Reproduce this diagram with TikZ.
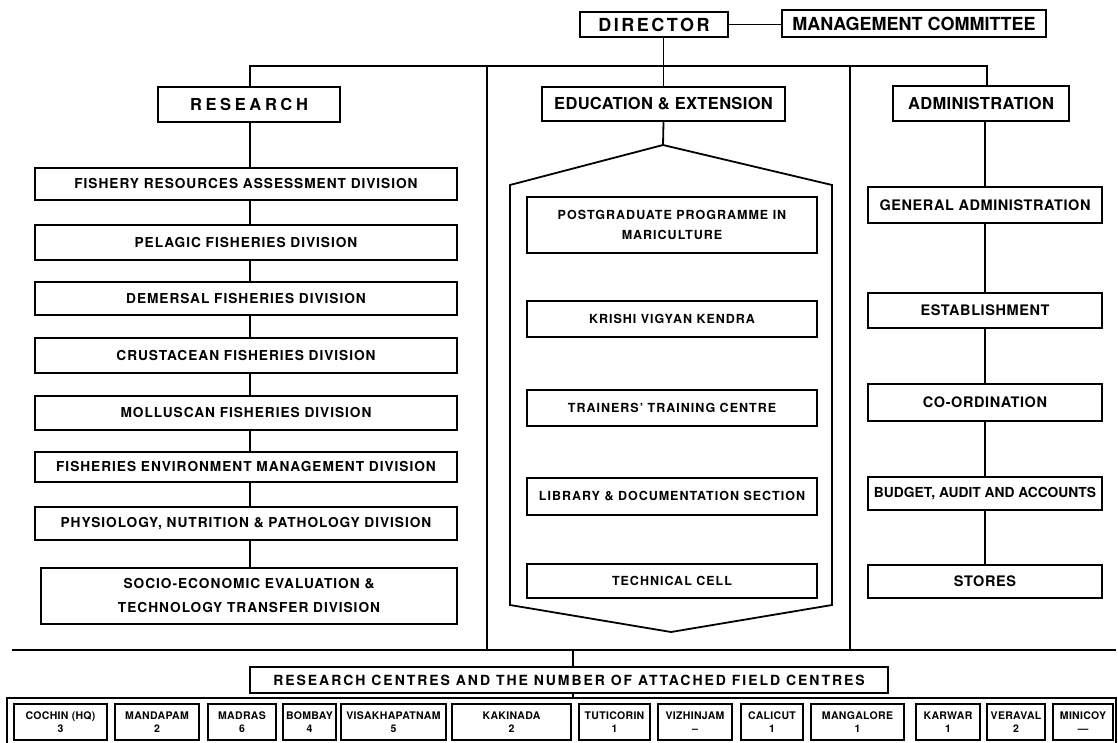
\documentclass[tikz,border=0pt]{standalone}
\usepackage{fontspec}
\setmainfont{TeX Gyre Heros}
\newfontfamily\hvR{TeX Gyre Heros}[LetterSpace=7, UprightFont=*-Bold]
\newfontfamily\hvM{TeX Gyre Heros}[LetterSpace=8, UprightFont=*-Bold]
\newfontfamily\hvA{TeX Gyre Heros}[LetterSpace=4, UprightFont=*-Bold]
\newfontfamily\hvW{TeX Gyre Heros}[LetterSpace=22, UprightFont=*-Bold]
\newfontfamily\hvD{TeX Gyre Heros}[LetterSpace=14, UprightFont=*-Bold]
\newfontfamily\hvT{TeX Gyre Heros}[LetterSpace=2, UprightFont=*-Bold]
\newfontfamily\hvZ{TeX Gyre Heros}[LetterSpace=0, UprightFont=*-Bold]
\newfontfamily\hvC{TeX Gyre Heros}[LetterSpace=3, UprightFont=*-Bold]
\tikzset{
  box/.style={draw, line width=1.3pt, inner sep=0pt, align=center},
  conn/.style={line width=1.8pt},
  sepline/.style={line width=2.6pt},
  rbox/.style={box, minimum width=422pt, font=\hvR\fontsize{13.7}{16}\selectfont},
  mbox/.style={box, minimum width=290pt, font=\hvM\fontsize{12.5}{20}\selectfont},
  abox/.style={box, minimum width=234pt, font=\hvA\fontsize{14.5}{16}\selectfont},
  hbox/.style={box, font=\hvT\fontsize{16.5}{18}\selectfont},
  cbox/.style={box, minimum height=36pt, font=\hvC\fontsize{10.5}{13}\selectfont},
}
\begin{document}
\begin{tikzpicture}[x=1pt,y=-1pt]
\useasboundingbox (0,0) rectangle (1118,743);
% top
\node[box, minimum width=148pt, minimum height=25pt, font=\hvD\fontsize{18}{20}\selectfont] (dir) at (654,24.5) {DIRECTOR};
\node[box, minimum width=264pt, minimum height=27pt, font=\hvZ\fontsize{18}{20}\selectfont] (mc) at (914,23.5) {MANAGEMENT COMMITTEE};
\draw[conn] (dir.east) -- (mc.west |- dir.east);
% headers
\node[hbox, minimum width=182pt, minimum height=35pt, font=\hvW\fontsize{16.5}{18}\selectfont] (res) at (249,104.5) {RESEARCH};
\node[hbox, minimum width=243pt, minimum height=34pt] (edu) at (663.5,104) {EDUCATION \& EXTENSION};
\node[hbox, minimum width=176pt, minimum height=35pt] (adm) at (981,103.5) {ADMINISTRATION};
\coordinate (busL) at (250,66);
\coordinate (busR) at (987,66);
\coordinate (sepLt) at (487,66);
\coordinate (sepRt) at (850,66);
\coordinate (bbL) at (12,650);
\coordinate (bbR) at (1116,650);
\draw[conn] (dir.south -| edu.north) -- (edu.north);
\draw[sepline] (res.north -| busL) -- (busL) -- (busR) -- (busR |- adm.north);
\draw[sepline] (sepLt) -- (sepLt |- bbL);
\draw[sepline] (sepRt) -- (sepRt |- bbL);
\draw[sepline] (bbL) -- (bbR);
% research column
\node[rbox, minimum height=32pt] (fra) at (246,184) {FISHERY RESOURCES ASSESSMENT DIVISION};
\node[rbox, minimum height=35pt] (pel) at (246,242.5) {PELAGIC FISHERIES DIVISION};
\node[rbox, minimum height=33pt] (dem) at (246,298.5) {DEMERSAL FISHERIES DIVISION};
\node[rbox, minimum height=35pt] (cru) at (246,355.5) {CRUSTACEAN FISHERIES DIVISION};
\node[rbox, minimum height=34pt] (mol) at (246,413) {MOLLUSCAN FISHERIES DIVISION};
\node[rbox, minimum height=30pt] (fem) at (246,467) {FISHERIES ENVIRONMENT MANAGEMENT DIVISION};
\node[rbox, minimum height=33pt] (pnp) at (246,523.5) {PHYSIOLOGY, NUTRITION \& PATHOLOGY DIVISION};
\node[rbox, minimum width=416pt, minimum height=56pt, font=\hvR\fontsize{13.7}{24}\selectfont] (soc) at (249,596) {SOCIO-ECONOMIC EVALUATION \&\\TECHNOLOGY TRANSFER DIVISION};
\foreach \a/\b in {res/fra,fra/pel,pel/dem,dem/cru,cru/mol,mol/fem,fem/pnp,pnp/soc}
  \draw[conn] (\a.south -| busL) -- (\b.north -| busL);
% education column
\coordinate (pA) at (663,145);
\coordinate (pL) at (510,185);
\coordinate (pLb) at (510,605);
\coordinate (pB) at (671,632);
\coordinate (pRb) at (832,605);
\coordinate (pR) at (832,185);
\draw[conn] (edu.south) -- (pA);
\draw[line width=1.8pt, line join=miter] (pA) -- (pL) -- (pLb) -- (pB) -- (pRb) -- (pR) -- cycle;
\node[mbox, minimum height=56pt] (pg) at (672,225) {POSTGRADUATE PROGRAMME IN\\MARICULTURE};
\node[mbox, minimum height=36pt] (kvk) at (672,319) {KRISHI VIGYAN KENDRA};
\node[mbox, minimum height=36pt] (ttc) at (672,408) {TRAINERS’ TRAINING CENTRE};
\node[mbox, minimum height=37pt] (lib) at (672,496.5) {LIBRARY \& DOCUMENTATION SECTION};
\node[mbox, minimum height=34pt] (tech) at (672,581) {TECHNICAL CELL};
% administration column
\node[abox, minimum height=36pt] (ga) at (985,205) {GENERAL ADMINISTRATION};
\node[abox, minimum height=35pt] (est) at (985,310.5) {ESTABLISHMENT};
\node[abox, minimum height=37pt] (co) at (985,402.5) {CO-ORDINATION};
\node[abox, minimum height=33pt, font=\hvZ\fontsize{13.8}{16}\selectfont] (bud) at (985,493.5) {BUDGET, AUDIT AND ACCOUNTS};
\node[abox, minimum height=33pt] (sto) at (985,581.5) {STORES};
\foreach \a/\b in {adm/ga,ga/est,est/co,co/bud,bud/sto}
  \draw[conn] (\b.north |- \a.south) -- (\b.north);
% research centres
\node[box, minimum width=638pt, minimum height=26pt, font=\hvD\fontsize{14}{16}\selectfont] (rc) at (569,680) {RESEARCH CENTRES AND THE NUMBER OF ATTACHED FIELD CENTRES};
\coordinate (frTL) at (7,698);
\coordinate (frTR) at (1116,698);
\draw[conn] (rc.north -| 573,0) -- (573,650);
\draw[conn] (rc.south -| 573,0) -- (573,698);
\draw[line width=1.6pt] (7,760) -- (frTL) -- (frTR) -- (1116,760);
\foreach \n/\l/\r/\t/\c in {
  c1/14/107/COCHIN (HQ)/3, c2/115/199/MANDAPAM/2, c3/208/276/MADRAS/6,
  c4/283/336/BOMBAY/4, c5/341/446/VISAKHAPATNAM/5, c6/452/571/KAKINADA/2,
  c7/579/650/TUTICORIN/1, c8/658/732/VIZHINJAM/–, c9/741/803/CALICUT/1,
  c10/811/904/MANGALORE/1, c11/916/980/KARWAR/1, c12/987/1045/VERAVAL/2,
  c13/1053/1113/MINICOY/—}
  \node[cbox, minimum width={(\r-\l)*1pt}] (\n) at ({(\l+\r)/2},722) {\t\\\c};
\end{tikzpicture}
\end{document}
